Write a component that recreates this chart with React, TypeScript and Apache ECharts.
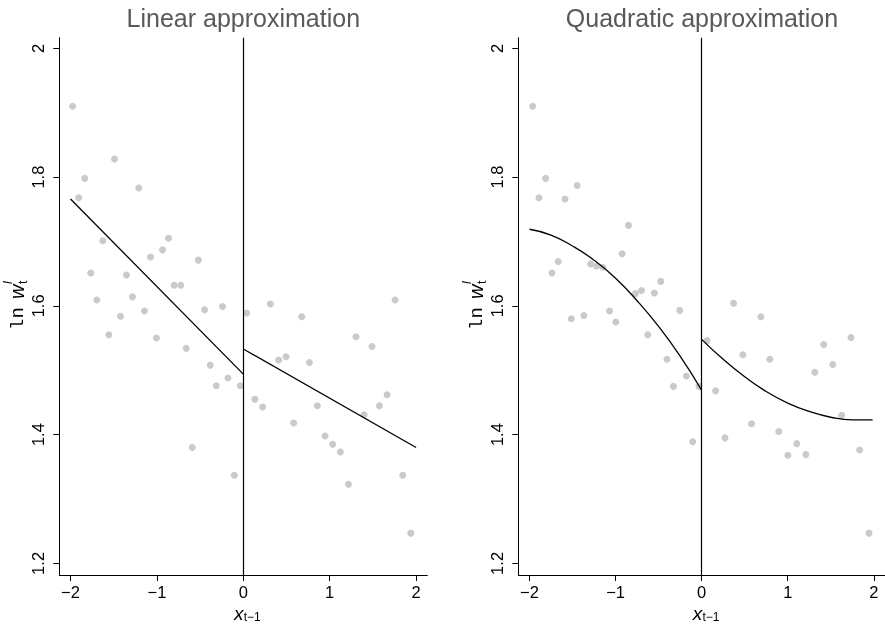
import React, { useEffect, useRef } from "react";
import * as echarts from "echarts";

const xTicks = [-2, -1, 0, 1, 2];
const yTicks = [1.2, 1.4, 1.6, 1.8, 2];
const panelTitles = ["Linear approximation", "Quadratic approximation"];

// Left panel (linear) scatter
const linPointsX = [-1.976, -1.905, -1.835, -1.491, -1.21, -1.627, -0.866, -0.935, -1.074, -0.521, -1.766, -1.352, -0.8, -0.723, -1.283, -1.696, -0.24, -0.448, -1.144, 0.038, 0.313, 0.676, 1.757, -1.422, -1.557, -1.005, -0.661, -0.382, -0.178, -0.313, -0.035, -0.591, -0.104, 1.305, 1.49, 0.409, 0.494, 0.765, 1.664, 1.576, 0.857, 0.134, 0.224, 1.398, 0.583, 0.946, 1.035, 1.124, 1.217, 1.846, 1.939];
const linPointsY = [1.91, 1.768, 1.798, 1.828, 1.783, 1.701, 1.705, 1.687, 1.676, 1.671, 1.651, 1.648, 1.632, 1.632, 1.614, 1.609, 1.599, 1.594, 1.592, 1.589, 1.603, 1.583, 1.609, 1.584, 1.555, 1.55, 1.534, 1.508, 1.488, 1.476, 1.476, 1.38, 1.337, 1.552, 1.537, 1.516, 1.521, 1.512, 1.462, 1.445, 1.445, 1.455, 1.443, 1.431, 1.418, 1.398, 1.385, 1.373, 1.323, 1.337, 1.247];

// Right panel (quadratic) scatter
const quadPointsX = [-1.963, -1.89, -1.812, -1.588, -1.446, -0.85, -0.924, -1.666, -1.739, -1.29, -1.221, -1.148, -0.475, -0.769, -0.699, -0.549, -0.255, -1.07, -1.368, -1.515, 0.371, 0.688, -0.997, -0.626, -0.402, -0.178, -0.328, -0.031, -0.104, 0.062, 0.479, 0.792, 0.162, 1.418, 1.735, 1.523, 1.314, 1.627, 0.58, 0.271, 0.896, 1.105, 1.001, 1.21, 1.836, 1.944];
const quadPointsY = [1.91, 1.768, 1.798, 1.766, 1.787, 1.725, 1.681, 1.669, 1.651, 1.665, 1.662, 1.66, 1.638, 1.619, 1.624, 1.62, 1.593, 1.592, 1.585, 1.58, 1.604, 1.583, 1.575, 1.555, 1.517, 1.491, 1.475, 1.475, 1.389, 1.546, 1.524, 1.517, 1.468, 1.54, 1.551, 1.509, 1.497, 1.43, 1.417, 1.395, 1.405, 1.386, 1.368, 1.369, 1.376, 1.247];

// Fitted lines
const linFitLeftX = [-2, 0];
const linFitLeftY = [1.766, 1.494];
const linFitRightX = [0, 2];
const linFitRightY = [1.533, 1.38];

const quadFitLeftX = [-2, -1.75, -1.5, -1.25, -1, -0.75, -0.5, -0.25, 0];
const quadFitLeftY = [1.719, 1.71, 1.693, 1.671, 1.643, 1.608, 1.568, 1.522, 1.469];
const quadFitRightX = [0, 0.25, 0.5, 0.75, 1, 1.25, 1.5, 1.75, 1.986];
const quadFitRightY = [1.548, 1.517, 1.49, 1.467, 1.449, 1.436, 1.427, 1.423, 1.423];

const zip = (xs: number[], ys: number[]) => xs.map((x, i) => [x, ys[i]]);

const SANS = '"Liberation Sans", Arial, Helvetica, sans-serif';
const MONO = '"Liberation Mono", "Courier New", monospace';

const grids = [
  { left: 59.3, top: 37.7, width: 368, height: 537.3 },
  { left: 518.3, top: 37.7, width: 367.4, height: 537.3 },
];

function yLabel(x0: number) {
  return {
    type: "group",
    x: x0,
    y: 330,
    rotation: Math.PI / 2,
    silent: true,
    children: [
      { type: "text", x: 0, y: 4, style: { text: "ln", font: `19px ${MONO}`, fill: "#000", align: "left", verticalAlign: "bottom" } },
      { type: "text", x: 31, y: 4, style: { text: "w", font: `italic 20px ${SANS}`, fill: "#000", align: "left", verticalAlign: "bottom" } },
      { type: "text", x: 46, y: -9, style: { text: "l", font: `italic 12px ${SANS}`, fill: "#000", align: "left", verticalAlign: "bottom" } },
      { type: "text", x: 46, y: 6, style: { text: "t", font: `12px ${SANS}`, fill: "#000", align: "left", verticalAlign: "bottom" } },
    ],
  };
}

function xLabel(cx: number) {
  return [
    { type: "text", x: cx - 5, y: 613.3, silent: true, style: { text: "x", font: `italic 19px ${SANS}`, fill: "#000", align: "center", verticalAlign: "middle" } },
    { type: "text", x: cx, y: 617, silent: true, style: { text: "t\u22121", font: `12px ${SANS}`, fill: "#000", align: "left", verticalAlign: "middle" } },
  ];
}

export default function App() {
  const ref = useRef<HTMLDivElement>(null);
  useEffect(() => {
    if (!ref.current) return;
    const chart = echarts.init(ref.current, undefined, { renderer: "svg" });
    const centers = grids.map((g) => g.left + g.width / 2);

    const xAxis = grids.map((_, i) => ({
      type: "value",
      gridIndex: i,
      min: -2.13,
      max: 2.13,
      axisLine: { show: true, onZero: false, lineStyle: { color: "#000", width: 1 } },
      axisTick: { show: true, length: 6, customValues: xTicks, lineStyle: { color: "#000", width: 1 } },
      axisLabel: {
        customValues: xTicks,
        formatter: (v: number) => String(v).replace("-", "\u2212"),
        color: "#000",
        fontSize: 16.5,
        fontFamily: SANS,
        margin: 8,
      },
      splitLine: { show: false },
    }));
    const yAxis = grids.map((_, i) => ({
      type: "value",
      gridIndex: i,
      min: 1.182,
      max: 2.0165,
      axisLine: { show: true, onZero: false, lineStyle: { color: "#000", width: 1 } },
      axisTick: { show: true, length: 6, customValues: yTicks, lineStyle: { color: "#000", width: 1 } },
      axisLabel: {
        customValues: yTicks,
        formatter: (v: number) => String(Math.round(v * 10) / 10),
        color: "#000",
        fontSize: 16.5,
        fontFamily: SANS,
        rotate: 90,
        margin: 13,
      },
      splitLine: { show: false },
    }));

    const scatter = (idx: number, data: number[][]) => ({
      type: "scatter",
      xAxisIndex: idx,
      yAxisIndex: idx,
      data,
      symbol: "circle",
      symbolSize: 7,
      itemStyle: { color: "#bdbdbd" },
      z: 2,
      markLine: {
        silent: true,
        symbol: ["none", "none"],
        label: { show: false },
        lineStyle: { color: "#000", width: 1.2, type: "solid" },
        data: [{ xAxis: 0 }],
      },
    });
    const line = (idx: number, data: number[][], smooth: number | boolean) => ({
      type: "line",
      xAxisIndex: idx,
      yAxisIndex: idx,
      data,
      smooth,
      symbol: "none",
      lineStyle: { color: "#000", width: 1.3 },
      z: 3,
    });

    chart.setOption({
      animation: false,
      grid: grids.map((g) => ({ ...g, containLabel: false })),
      xAxis,
      yAxis,
      series: [
        scatter(0, zip(linPointsX, linPointsY)),
        line(0, zip(linFitLeftX, linFitLeftY), false),
        line(0, zip(linFitRightX, linFitRightY), false),
        scatter(1, zip(quadPointsX, quadPointsY)),
        line(1, zip(quadFitLeftX, quadFitLeftY), 0.5),
        line(1, zip(quadFitRightX, quadFitRightY), 0.5),
      ],
      graphic: [
        ...panelTitles.map((t, i) => ({
          type: "text",
          x: centers[i],
          y: 18,
          silent: true,
          style: { text: t, font: `25px ${SANS}`, fill: "#595959", align: "center", verticalAlign: "middle" },
        })),
        yLabel(23),
        yLabel(23 + (grids[1].left - grids[0].left)),
        ...xLabel(centers[0] + 0.4),
        ...xLabel(centers[1] + 0.4),
      ],
    });
    return () => chart.dispose();
  }, []);
  return <div ref={ref} style={{ position: "fixed", left: 0, top: 0, width: 885, height: 626 }} />;
}
